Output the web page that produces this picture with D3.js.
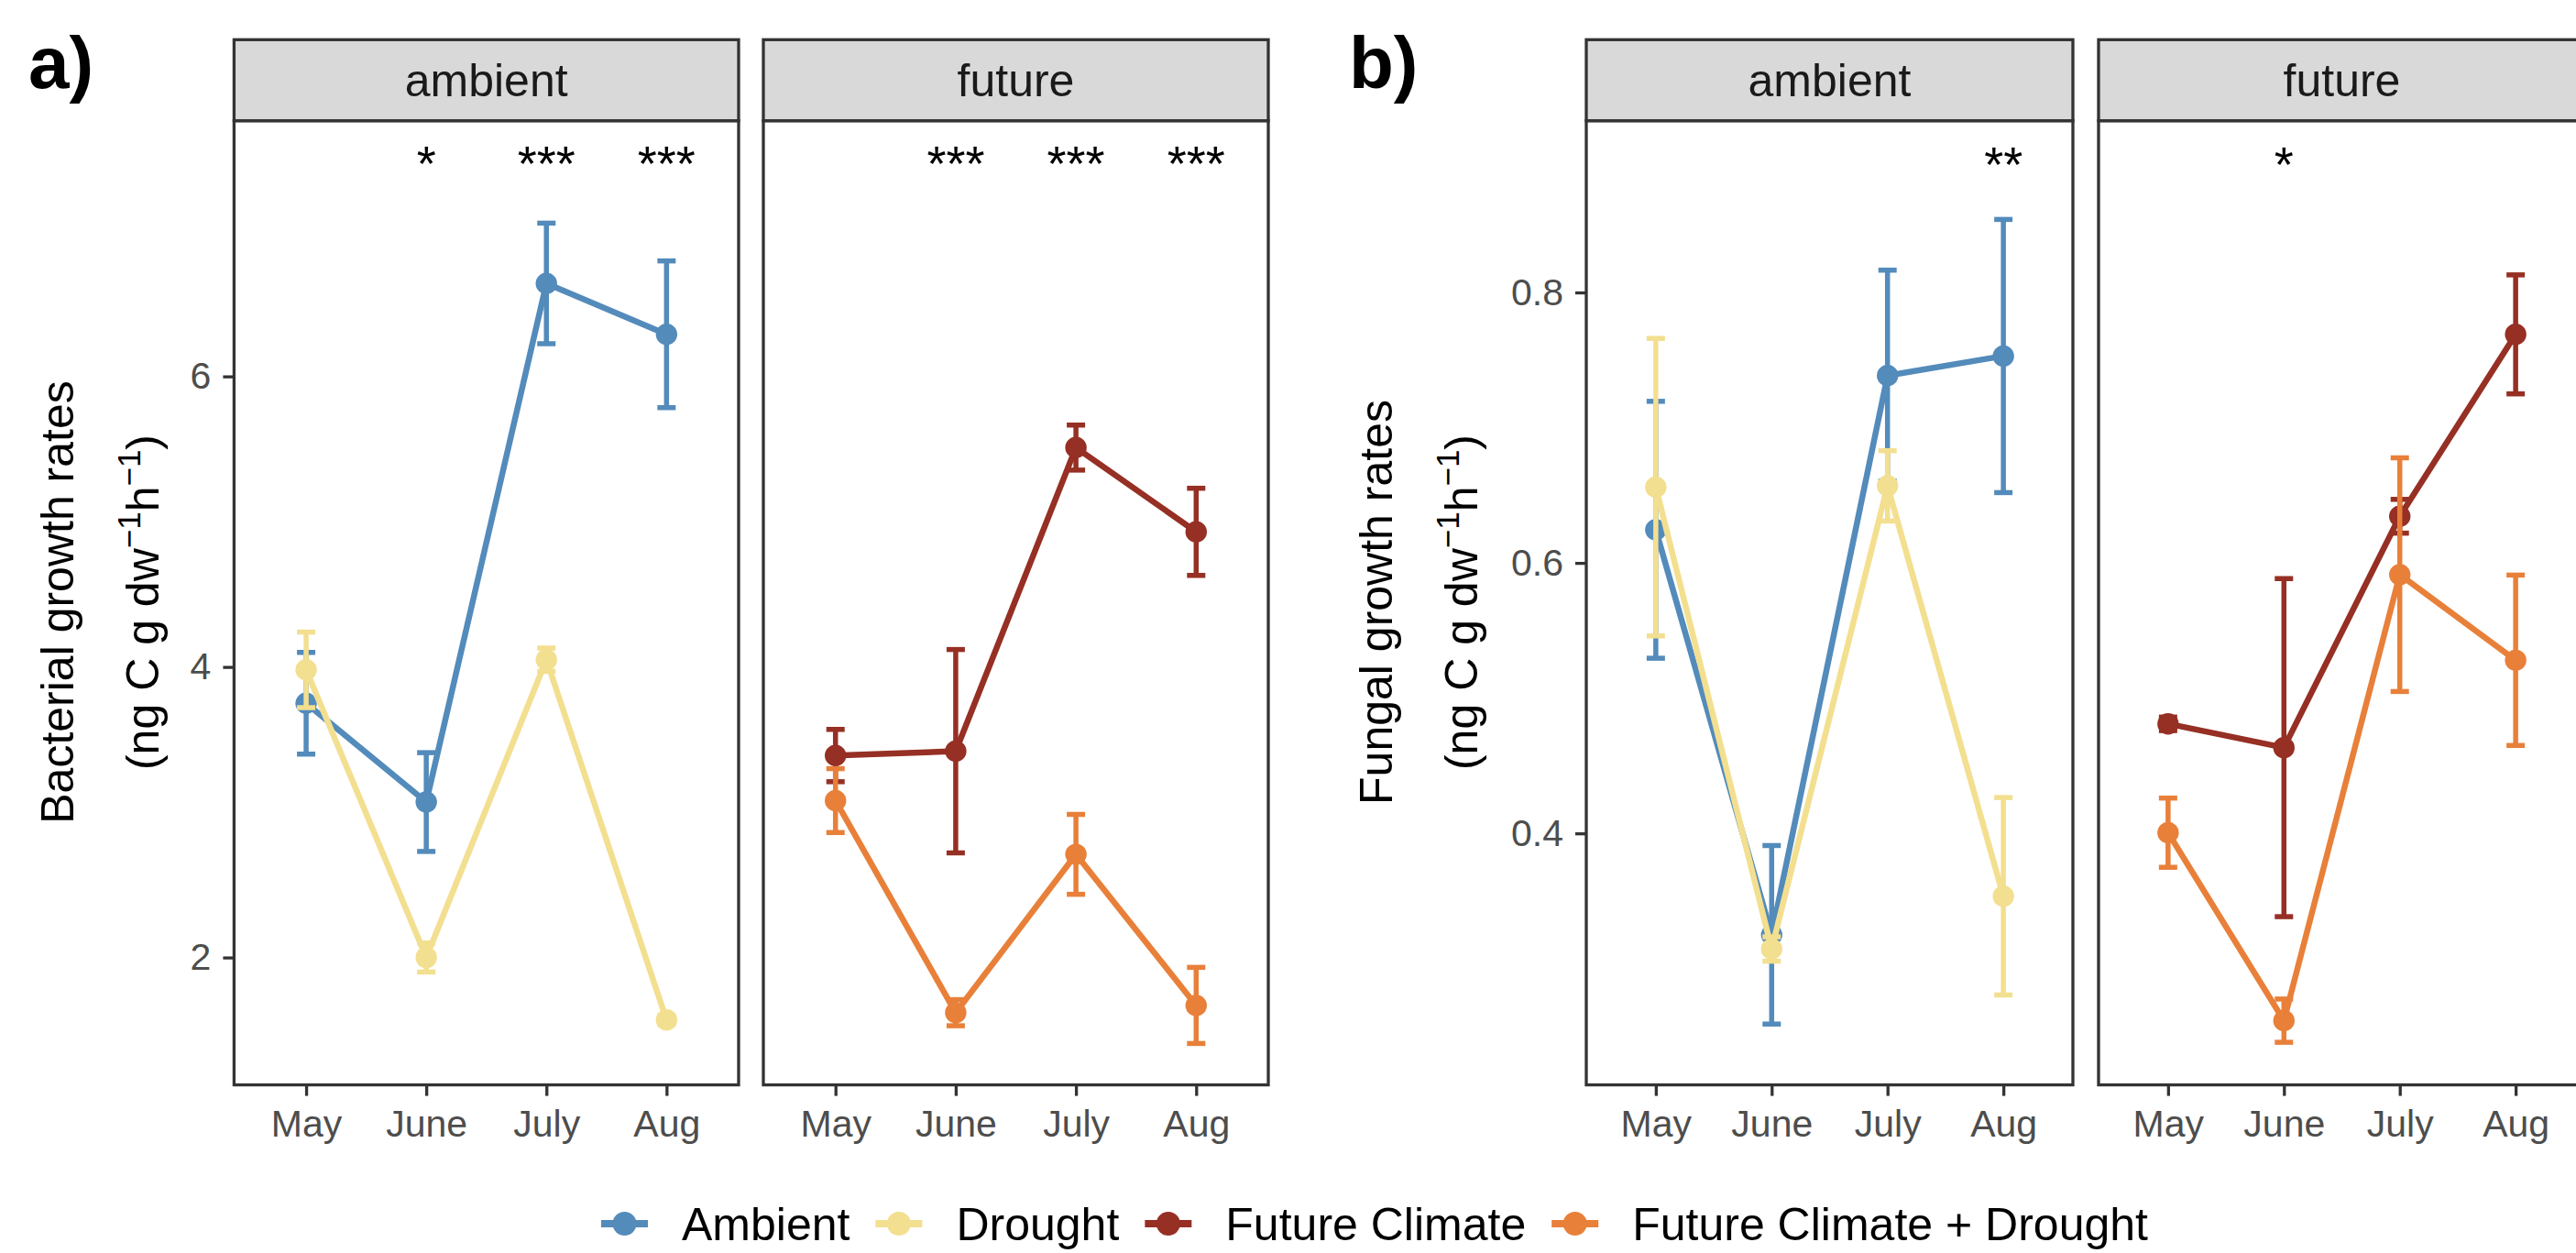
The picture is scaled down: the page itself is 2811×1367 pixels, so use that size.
<!DOCTYPE html>
<html>
<head>
<meta charset="utf-8">
<script src="https://cdn.jsdelivr.net/npm/d3@7"></script>
<style>
body { margin: 0; background: #fff; }
text { font-family: "Liberation Sans", Arial, Helvetica, sans-serif; }
</style>
</head>
<body>
<script>

// categories
var months = ["May", "June", "July", "Aug"];
var treatments = ["Ambient", "Drought", "Future Climate", "Future Climate + Drought"];
var treatmentColours = ["#538BBB", "#F3DF90", "#962F24", "#E8803A"];

// bacterial growth rates (mean, SE)
var bacAmbient = [3.75, 3.07, 6.64, 6.29];
var bacAmbientSE = [0.35, 0.34, 0.415, 0.505];
var bacDrought = [3.98, 2.00, 4.05, 1.57];
var bacDroughtSE = [0.26, 0.10, 0.08, 0.03];
var bacFuture = [3.39, 3.42, 5.51, 4.93];
var bacFutureSE = [0.18, 0.70, 0.155, 0.30];
var bacFutureDrought = [3.08, 1.62, 2.71, 1.67];
var bacFutureDroughtSE = [0.22, 0.09, 0.275, 0.262];

// fungal growth rates (mean, SE)
var funAmbient = [0.6245, 0.325, 0.7385, 0.753];
var funAmbientSE = [0.095, 0.066, 0.078, 0.101];
var funDrought = [0.656, 0.3145, 0.657, 0.3535];
var funDroughtSE = [0.11, 0.009, 0.026, 0.073];
var funFuture = [0.481, 0.4634, 0.6345, 0.769];
var funFutureSE = [0.005, 0.125, 0.0125, 0.044];
var funFutureDrought = [0.4005, 0.2615, 0.5913, 0.528];
var funFutureDroughtSE = [0.0256, 0.016, 0.0864, 0.063];

// significance labels
var bacStarsAmbient = ["", "*", "***", "***"];
var bacStarsFuture = ["", "***", "***", "***"];
var funStarsAmbient = ["", "", "", "**"];
var funStarsFuture = ["", "*", "", ""];

// axis ticks
var bacTicks = [2, 4, 6];
var funTicks = [0.4, 0.6, 0.8];

var width = 2811, height = 1367;
var stripTop = 43.3, plotTop = 131.7, plotBottom = 1183.6;
var grey20 = "#333333";

var svg = d3.select("body")
	.append("svg")
		.attr("width", width)
		.attr("height", height);

function series(i, means, ses){
	return {
		name: treatments[i],
		colour: treatmentColours[i],
		values: months.map(function(m, j){ return {month: m, mean: means[j], se: ses[j]}; })
	};
}

function drawFacet(left, right, y, label, groups, stars, starY, ticks, fmt){
	var x = d3.scalePoint().domain(months).range([left, right]).padding(0.6);
	var g = svg.append("g");

	g.append("rect")
		.attr("x", left).attr("y", plotTop)
		.attr("width", right - left).attr("height", plotBottom - plotTop)
		.attr("fill", "white");

	groups.forEach(function(s){
		var sg = g.append("g");
		// error bars
		var eb = sg.selectAll(".eb").data(s.values).enter().append("g");
		eb.append("line")
			.attr("x1", function(d){ return x(d.month); })
			.attr("x2", function(d){ return x(d.month); })
			.attr("y1", function(d){ return y(d.mean + d.se); })
			.attr("y2", function(d){ return y(d.mean - d.se); })
			.attr("stroke", s.colour).attr("stroke-width", 5.5);
		[1, -1].forEach(function(k){
			eb.append("line")
				.attr("x1", function(d){ return x(d.month) - 10; })
				.attr("x2", function(d){ return x(d.month) + 10; })
				.attr("y1", function(d){ return y(d.mean + k * d.se); })
				.attr("y2", function(d){ return y(d.mean + k * d.se); })
				.attr("stroke", s.colour).attr("stroke-width", 5.5);
		});
		// line
		sg.append("path")
			.datum(s.values)
			.attr("fill", "none")
			.attr("stroke", s.colour)
			.attr("stroke-width", 6.5)
			.attr("stroke-linejoin", "round")
			.attr("d", d3.line()
				.x(function(d){ return x(d.month); })
				.y(function(d){ return y(d.mean); }));
		// points
		sg.selectAll("circle").data(s.values).enter().append("circle")
			.attr("cx", function(d){ return x(d.month); })
			.attr("cy", function(d){ return y(d.mean); })
			.attr("r", 11.7)
			.attr("fill", s.colour);
	});

	// stars
	g.selectAll(".star").data(months).enter().append("text")
		.attr("x", function(d){ return x(d); })
		.attr("y", y(starY) + 18)
		.attr("text-anchor", "middle")
		.attr("font-size", "54px")
		.attr("fill", "black")
		.text(function(d, i){ return stars[i]; });

	// panel border
	g.append("rect")
		.attr("x", left).attr("y", plotTop)
		.attr("width", right - left).attr("height", plotBottom - plotTop)
		.attr("fill", "none").attr("stroke", grey20).attr("stroke-width", 3.3);

	// strip
	g.append("rect")
		.attr("x", left).attr("y", stripTop)
		.attr("width", right - left).attr("height", plotTop - stripTop)
		.attr("fill", "#D9D9D9").attr("stroke", grey20).attr("stroke-width", 3.3);
	g.append("text")
		.attr("x", (left + right) / 2).attr("y", 105)
		.attr("text-anchor", "middle")
		.attr("font-size", "50px")
		.attr("fill", "#1A1A1A")
		.text(label);

	// x axis
	var xa = g.append("g")
		.attr("transform", "translate(0," + plotBottom + ")")
		.call(d3.axisBottom(x).tickSize(12).tickPadding(15));
	xa.select(".domain").remove();
	xa.selectAll("line").attr("stroke", grey20).attr("stroke-width", 3.3);
	xa.selectAll("text").attr("font-size", "41px").attr("fill", "#4D4D4D")
		.attr("font-family", "Liberation Sans, Arial, sans-serif");

	// y axis (first facet only)
	if(ticks){
		var ya = g.append("g")
			.attr("transform", "translate(" + left + ",0)")
			.call(d3.axisLeft(y).tickValues(ticks).tickFormat(fmt).tickSize(12).tickPadding(13));
		ya.select(".domain").remove();
		ya.selectAll("line").attr("stroke", grey20).attr("stroke-width", 3.3);
		ya.selectAll("text").attr("font-size", "41px").attr("fill", "#4D4D4D")
			.attr("font-family", "Liberation Sans, Arial, sans-serif");
	}
}

function yTitle(x1, x2, line1){
	svg.append("text")
		.attr("transform", "translate(" + x1 + ",657) rotate(-90)")
		.attr("text-anchor", "middle")
		.attr("font-size", "50px")
		.attr("fill", "black")
		.text(line1);
	var t = svg.append("text")
		.attr("transform", "translate(" + x2 + ",657) rotate(-90)")
		.attr("text-anchor", "middle")
		.attr("font-size", "50px")
		.attr("fill", "black");
	t.append("tspan").text("(ng C g dw");
	t.append("tspan").attr("font-size", "35px").attr("dy", -20).text("\u22121");
	t.append("tspan").attr("dy", 20).text("h");
	t.append("tspan").attr("font-size", "35px").attr("dy", -20).text("\u22121");
	t.append("tspan").attr("dy", 20).text(")");
}

// a) bacterial
var yBac = d3.scaleLinear().domain([1.123, 7.76]).range([plotBottom, plotTop]);
drawFacet(255.4, 806, yBac, "ambient",
	[series(0, bacAmbient, bacAmbientSE), series(1, bacDrought, bacDroughtSE)],
	bacStarsAmbient, 7.46, bacTicks, d3.format("d"));
drawFacet(833, 1384, yBac, "future",
	[series(2, bacFuture, bacFutureSE), series(3, bacFutureDrought, bacFutureDroughtSE)],
	bacStarsFuture, 7.46, null, null);
yTitle(80, 173, "Bacterial growth rates");

// b) fungal
var yFun = d3.scaleLinear().domain([0.214, 0.927]).range([plotBottom, plotTop]);
drawFacet(1731, 2262, yFun, "ambient",
	[series(0, funAmbient, funAmbientSE), series(1, funDrought, funDroughtSE)],
	funStarsAmbient, 0.894, funTicks, d3.format(".1f"));
drawFacet(2290, 2821, yFun, "future",
	[series(2, funFuture, funFutureSE), series(3, funFutureDrought, funFutureDroughtSE)],
	funStarsFuture, 0.894, null, null);
yTitle(1519, 1612, "Fungal growth rates");

// panel tags
svg.append("text").attr("x", 31).attr("y", 96)
	.attr("font-size", "80px").attr("font-weight", "bold").text("a)");
svg.append("text").attr("x", 1472).attr("y", 96)
	.attr("font-size", "80px").attr("font-weight", "bold").text("b)");

// legend
var legend = svg.append("g");
var lx = 656, ly = 1335;
treatments.forEach(function(name, i){
	var item = legend.append("g").attr("transform", "translate(" + lx + "," + ly + ")");
	item.append("line")
		.attr("x1", 0).attr("x2", 51)
		.attr("stroke", treatmentColours[i]).attr("stroke-width", 8);
	item.append("circle")
		.attr("cx", 25.5).attr("r", 13)
		.attr("fill", treatmentColours[i]);
	var txt = item.append("text")
		.attr("x", 88).attr("y", 18)
		.attr("font-size", "50px")
		.attr("fill", "black")
		.text(name);
	lx += 88 + txt.node().getComputedTextLength() + 28;
});

</script>
</body>
</html>
